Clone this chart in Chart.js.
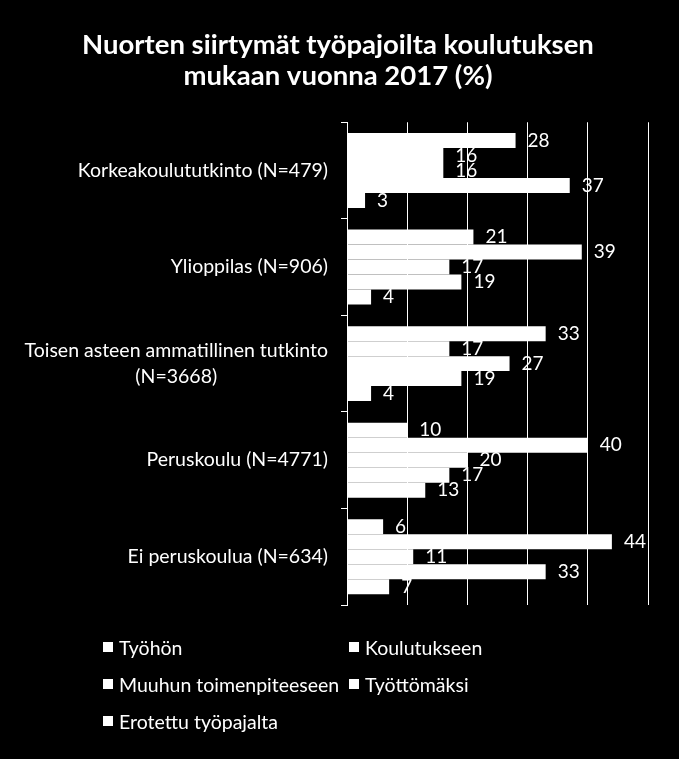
<!DOCTYPE html>
<html>
<head>
<meta charset="utf-8">
<script src="https://cdn.jsdelivr.net/npm/chart.js@4"></script>
<style>
  html, body { margin: 0; padding: 0; background: #000; }
  #wrap { position: relative; width: 679px; height: 759px; background: #000; }
  #legend { position: absolute; left: 103px; top: 634px; width: 520px;
            display: grid; grid-template-columns: 246px 220px; row-gap: 11px;
            font-family: Lato, sans-serif; font-size: 19.5px; color: #fff; }
  #legend div { display: flex; align-items: center; height: 26px; white-space: nowrap; }
  #legend span.box { display: inline-block; width: 10px; height: 10px; background: #fff; margin-right: 6px; }
</style>
</head>
<body>
<div id="wrap">
  <canvas id="chart" width="679" height="759"></canvas>
  <div id="legend"></div>
</div>
<script>
const title = ['Nuorten siirtymät työpajoilta koulutuksen', 'mukaan vuonna 2017 (%)'];
const categories = [
    'Korkeakoulututkinto (N=479)',
    'Ylioppilas (N=906)',
    ['Toisen asteen ammatillinen tutkinto', '(N=3668)'],
    'Peruskoulu (N=4771)',
    'Ei peruskoulua (N=634)'
];
const seriesNames = ['Työhön', 'Koulutukseen', 'Muuhun toimenpiteeseen', 'Työttömäksi', 'Erotettu työpajalta'];
const tyohon      = [28, 21, 33, 10, 6];
const koulutus    = [16, 39, 17, 40, 44];
const muuhun      = [16, 17, 27, 20, 11];
const tyottomaksi = [37, 19, 19, 17, 33];
const erotettu    = [3, 4, 4, 13, 7];
const xTicks = [0, 10, 20, 30, 40, 50];

const seriesValues = [tyohon, koulutus, muuhun, tyottomaksi, erotettu];

// value labels right of every bar
const valueLabels = {
    id: 'valueLabels',
    afterDatasetsDraw(chart) {
        const ctx = chart.ctx;
        ctx.save();
        ctx.fillStyle = '#fff';
        ctx.font = '19px Lato, sans-serif';
        ctx.textAlign = 'left';
        ctx.textBaseline = 'middle';
        chart.data.datasets.forEach((ds, i) => {
            chart.getDatasetMeta(i).data.forEach((bar, j) => {
                ctx.fillText(ds.data[j], bar.x + 12, bar.y);
            });
        });
        ctx.restore();
    }
};

// category labels: block right-aligned, lines centred inside block
const catLabels = {
    id: 'catLabels',
    afterDraw(chart) {
        const ctx = chart.ctx;
        const y = chart.scales.y;
        ctx.save();
        ctx.fillStyle = '#fff';
        ctx.font = '19.5px Lato, sans-serif';
        ctx.textBaseline = 'middle';
        ctx.textAlign = 'center';
        const right = y.right - 19;
        const lh = 26;
        chart.data.labels.forEach((lab, i) => {
            const lines = Array.isArray(lab) ? lab : [lab];
            const w = Math.max(...lines.map(l => ctx.measureText(l).width));
            const cx = right - w / 2;
            const cy = y.getPixelForTick(i);
            lines.forEach((l, k) => {
                ctx.fillText(l, cx, cy + (k - (lines.length - 1) / 2) * lh);
            });
        });
        ctx.restore();
    }
};

const bgPlugin = {
    id: 'bg',
    beforeDraw(chart) {
        const ctx = chart.ctx;
        ctx.save();
        ctx.fillStyle = '#000';
        ctx.fillRect(0, 0, chart.width, chart.height);
        ctx.restore();
    }
};

new Chart(document.getElementById('chart'), {
    type: 'bar',
    data: {
        labels: categories,
        datasets: seriesNames.map((name, i) => ({
            label: name,
            data: seriesValues[i],
            backgroundColor: '#fff',
            borderWidth: 0,
            categoryPercentage: 0.776,
            barPercentage: 1.0
        }))
    },
    options: {
        indexAxis: 'y',
        responsive: false,
        animation: false,
        layout: { padding: { left: 28, right: 31, top: 0, bottom: 154 } },
        plugins: {
            legend: { display: false },
            tooltip: { enabled: false },
            title: {
                display: true,
                text: title,
                color: '#fff',
                font: { family: 'Lato, sans-serif', size: 27.5, weight: 'bold', lineHeight: 1.15 },
                padding: { top: 29, bottom: 30 }
            }
        },
        scales: {
            x: {
                min: 0, max: 50,
                afterBuildTicks(s) { s.ticks = xTicks.map(v => ({ value: v })); },
                ticks: { display: false },
                grid: { color: '#fff', lineWidth: 1, drawTicks: false },
                border: { display: false },
                afterFit(s) { s.height = 0; }
            },
            y: {
                ticks: { display: false },
                grid: { display: true, offset: true, drawOnChartArea: false, color: '#fff', tickLength: 6 },
                border: { display: true, color: '#fff', width: 1 },
                afterFit(s) { s.width = 319; }
            }
        }
    },
    plugins: [bgPlugin, valueLabels, catLabels]
});

const legend = document.getElementById('legend');
seriesNames.forEach(name => {
    const d = document.createElement('div');
    d.innerHTML = '<span class="box"></span>' + name;
    legend.appendChild(d);
});
</script>
</body>
</html>
